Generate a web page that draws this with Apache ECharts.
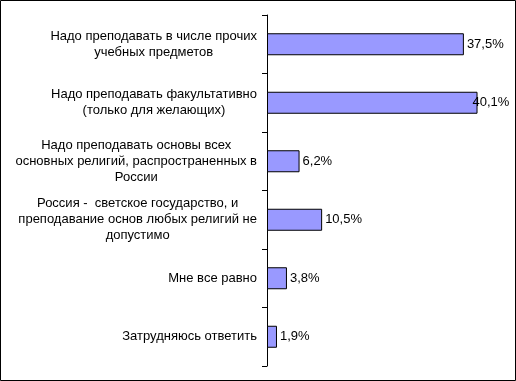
<!DOCTYPE html>
<html><head><meta charset="utf-8">
<script src="https://cdn.jsdelivr.net/npm/echarts@6/dist/echarts.min.js"></script>
<style>html,body{margin:0;padding:0;background:#fff}#c{width:516px;height:381px}</style>
</head><body><div id="c"></div>
<script>
const categories = [
  "Надо преподавать в числе прочих\nучебных предметов",
  "Надо преподавать факультативно\n(только для желающих)",
  "Надо преподавать основы всех\nосновных религий, распространенных в\nРоссии",
  "Россия -  светское государство, и\nпреподавание основ любых религий не\nдопустимо",
  "Мне все равно",
  "Затрудняюсь ответить"
];
const values = [37.5, 40.1, 6.2, 10.5, 3.8, 1.9];

const chart = echarts.init(document.getElementById('c'), null, {renderer: 'canvas'});
const font = 'Liberation Sans, Arial, sans-serif';
chart.setOption({
  animation: false,
  graphic: [{type: 'rect', shape: {x: 0.5, y: 0.5, width: 515, height: 380}, style: {fill: 'none', stroke: '#000', lineWidth: 1}, silent: true}],
  grid: {left: 267, top: 15, width: 236.25, height: 351, containLabel: false},
  xAxis: {type: 'value', min: 0, max: 45, show: false},
  yAxis: {
    type: 'category', inverse: true, data: categories,
    axisLine: {show: true, lineStyle: {color: '#000', width: 1}},
    axisTick: {show: true, length: 5, lineStyle: {color: '#000'}},
    axisLabel: {
      margin: 10, color: '#000', fontFamily: font, fontSize: 13, lineHeight: 16, align: 'right',
      formatter: function (v) { return v.split('\n').map(function (s) { return '{c|' + s + '}'; }).join('\n'); },
      rich: {c: {align: 'center', fontFamily: font, fontSize: 13, lineHeight: 16, color: '#000'}}
    },
    splitLine: {show: false}
  },
  series: [{
    type: 'bar', barWidth: 22,
    data: values.map(function (v, i) { return i === 1 ? {value: v, label: {offset: [-8, 0]}} : v; }),
    itemStyle: {color: '#9999FF', borderColor: '#000', borderWidth: 1},
    label: {show: true, position: 'right', distance: 3, color: '#000', fontFamily: font, fontSize: 13,
      formatter: function (p) { return String(p.value.toFixed(1)).replace('.', ',') + '%'; }}
  }]
});
</script></body></html>
